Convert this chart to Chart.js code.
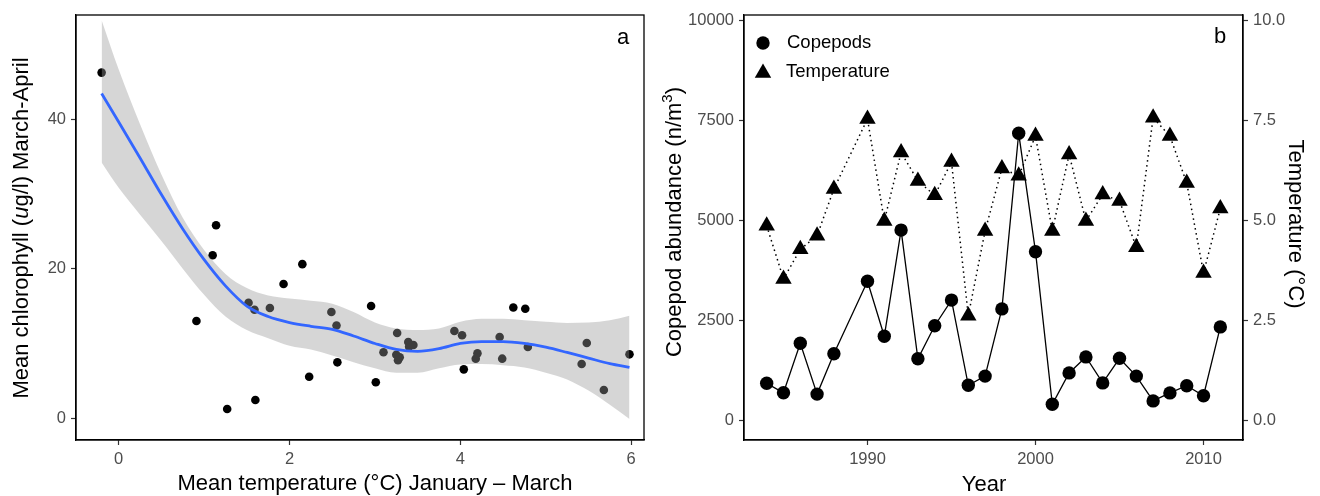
<!DOCTYPE html>
<html>
<head>
<meta charset="utf-8">
<script src="https://cdn.jsdelivr.net/npm/chart.js@4.4.0/dist/chart.umd.min.js"></script>
<style>
  html, body { margin: 0; padding: 0; background: #fff; }
  #wrapA { position: absolute; left: 0; top: 0; width: 660px; height: 496px; }
  #wrapB { position: absolute; left: 660px; top: 0; width: 660px; height: 496px; }
</style>
</head>
<body>
<div id="wrapA"><canvas id="chartA" width="660" height="496"></canvas></div>
<div id="wrapB"><canvas id="chartB" width="660" height="496"></canvas></div>
<script>
// PANEL A - chlorophyll vs temperature
const chlTemp = [-0.20, 1.14, 1.10, 0.91, 1.27, 1.60, 1.52, 1.59, 1.77, 1.93, 2.15, 2.23, 2.49, 2.55, 2.56,
  2.955, 3.01, 3.10, 3.26, 3.25, 3.29, 3.27, 3.39, 3.45, 3.40, 3.93, 4.02, 4.04, 4.20, 4.18,
  4.46, 4.49, 4.62, 4.76, 4.79, 5.42, 5.48, 5.68, 5.98];
const chlValue = [46.2, 25.8, 21.8, 13.0, 1.24, 2.45, 15.45, 14.5, 14.74, 17.95, 20.6, 5.56, 14.2, 12.4, 7.48,
  15.0, 4.81, 8.82, 11.4, 8.5, 8.15, 7.75, 10.2, 9.8, 9.57, 11.67, 11.09, 6.54, 8.68, 7.97,
  10.87, 7.97, 14.8, 14.65, 9.53, 7.26, 10.06, 3.78, 8.55];

const smoothX = [-0.2, 0, 0.25, 0.5, 0.75, 1.0, 1.25, 1.5, 1.75, 2.0, 2.25, 2.5, 2.75,
  3.0, 3.25, 3.5, 3.75, 4.0, 4.25, 4.5, 4.75, 5.0, 5.25, 5.5, 5.75, 5.98];
const smoothY = [43.4, 39.6, 34.8, 29.9, 25.3, 21.2, 17.7, 15.0, 13.6, 12.8, 12.3, 11.9, 11.0,
  10.0, 9.2, 8.95, 9.3, 10.0, 10.25, 10.25, 10.0, 9.5, 8.8, 8.05, 7.3, 6.8];
const bandUpper = [53.2, 46.6, 39.3, 32.6, 26.8, 22.5, 19.3, 17.4, 16.4, 16.0, 15.7, 15.3, 14.2,
  12.8, 12.0, 11.8, 12.0, 12.9, 13.3, 13.3, 13.1, 12.9, 12.75, 12.8, 13.1, 13.7];
const bandLower = [34.2, 30.8, 27.2, 23.7, 20.0, 16.5, 13.6, 11.8, 10.7, 9.7, 9.2, 8.4, 7.5,
  6.7, 6.1, 6.1, 6.7, 7.2, 7.25, 7.1, 6.8, 6.1, 5.2, 3.7, 1.8, -0.1];

const xTicksA = [0, 2, 4, 6];
const yTicksA = [0, 20, 40];

// PANEL B - copepods and temperature by year
const years = [1984, 1985, 1986, 1987, 1988, 1990, 1991, 1992, 1993, 1994, 1995, 1996, 1997, 1998,
  1999, 2000, 2001, 2002, 2003, 2004, 2005, 2006, 2007, 2008, 2009, 2010, 2011];
const copepods = [930, 695, 1930, 660, 1670, 3480, 2105, 4760, 1545, 2370, 3010, 880, 1110, 2790,
  7180, 4220, 405, 1190, 1590, 940, 1555, 1110, 490, 690, 870, 620, 2340];
const temperature = [4.87, 3.54, 4.28, 4.62, 5.79, 7.54, 4.99, 6.70, 5.99, 5.63, 6.46, 2.62, 4.74, 6.30,
  6.12, 7.11, 4.74, 6.65, 4.99, 5.65, 5.49, 4.33, 7.57, 7.11, 5.94, 3.69, 5.30];

const xTicksB = [1990, 2000, 2010];
const yTicksB = [0, 2500, 5000, 7500, 10000];
const y2TicksB = [0, 2.5, 5, 7.5, 10];

const FAMILY = '"Liberation Sans", Arial, Helvetica, sans-serif';
const tickFont = { family: FAMILY, size: 16.5 };
const tickColor = '#4d4d4d';

function toXY(xs, ys) {
  return xs.map((x, i) => ({ x: x, y: ys[i] }));
}

function axisStyle(ticks, fit, extra) {
  return Object.assign({
    type: 'linear',
    afterBuildTicks: s => { s.ticks = ticks.map(v => ({ value: v })); },
    afterFit: fit,
    ticks: { font: tickFont, color: tickColor, padding: 5, callback: v => String(v) },
    grid: { drawOnChartArea: false, drawTicks: true, tickLength: 5, tickColor: '#333', tickWidth: 1.2 },
    border: { display: true, color: '#000', width: 1.3 }
  }, extra);
}

// draw text pieces (with own font / baseline shift) around a centre, optionally rotated
function drawText(ctx, pieces, cx, cy, angle) {
  ctx.save();
  ctx.translate(cx, cy);
  ctx.rotate(angle);
  ctx.textBaseline = 'middle';
  ctx.textAlign = 'left';
  ctx.fillStyle = '#000';
  let total = 0;
  pieces.forEach(p => { ctx.font = p.font; total += ctx.measureText(p.text).width; });
  let x = -total / 2;
  pieces.forEach(p => {
    ctx.font = p.font;
    ctx.fillText(p.text, x, p.dy || 0);
    x += ctx.measureText(p.text).width;
  });
  ctx.restore();
}

const F22 = '22px ' + FAMILY;

const decorA = {
  id: 'decorA',
  afterDraw(chart) {
    const ctx = chart.ctx, a = chart.chartArea;
    ctx.save();
    ctx.strokeStyle = '#000';
    ctx.lineWidth = 1.3;
    ctx.strokeRect(a.left, a.top, a.right - a.left, a.bottom - a.top);
    ctx.restore();
    drawText(ctx, [{ text: 'a', font: F22 }], 623, 38, 0);
    drawText(ctx, [{ text: 'Mean temperature (°C) January – March', font: F22 }], 375, 484, 0);
    drawText(ctx, [
      { text: 'Mean chlorophyll (', font: F22 },
      { text: 'u', font: 'italic ' + F22 },
      { text: 'g/l) March-April', font: F22 }
    ], 22, 228, -Math.PI / 2);
  }
};

new Chart(document.getElementById('chartA'), {
  type: 'scatter',
  data: {
    datasets: [
      {
        type: 'line', label: 'loess', data: toXY(smoothX, smoothY), order: 0,
        borderColor: '#3366FF', borderWidth: 2.8, pointRadius: 0, fill: false,
        cubicInterpolationMode: 'monotone'
      },
      {
        type: 'line', label: 'upper', data: toXY(smoothX, bandUpper), order: 1,
        borderColor: 'rgba(0,0,0,0)', borderWidth: 0.01, pointRadius: 0,
        backgroundColor: 'rgba(153,153,153,0.4)', fill: '+1',
        cubicInterpolationMode: 'monotone'
      },
      {
        type: 'line', label: 'lower', data: toXY(smoothX, bandLower), order: 2,
        borderColor: 'rgba(0,0,0,0)', borderWidth: 0.01, pointRadius: 0, fill: false,
        cubicInterpolationMode: 'monotone'
      },
      {
        label: 'obs', data: toXY(chlTemp, chlValue), order: 3,
        backgroundColor: '#000', borderWidth: 0, pointRadius: 4.3
      }
    ]
  },
  options: {
    responsive: false,
    animation: false,
    layout: { padding: { top: 15, right: 16, left: 0, bottom: 0 } },
    plugins: { legend: { display: false }, tooltip: { enabled: false } },
    scales: {
      x: axisStyle(xTicksA, s => { s.height = 56; }, { min: -0.5, max: 6.15 }),
      y: axisStyle(yTicksA, s => { s.width = 76; }, { min: -2.9, max: 53.9 })
    }
  },
  plugins: [decorA]
});

const decorB = {
  id: 'decorB',
  afterDraw(chart) {
    const ctx = chart.ctx, a = chart.chartArea;
    ctx.save();
    ctx.strokeStyle = '#000';
    ctx.lineWidth = 1.3;
    ctx.strokeRect(a.left, a.top, a.right - a.left, a.bottom - a.top);
    // legend
    ctx.fillStyle = '#000';
    ctx.beginPath();
    ctx.arc(103, 43, 6.7, 0, Math.PI * 2);
    ctx.fill();
    const r = 9.5, tx = 103, ty = 73;
    ctx.beginPath();
    ctx.moveTo(tx, ty - r);
    ctx.lineTo(tx + r * 0.866, ty + r / 2);
    ctx.lineTo(tx - r * 0.866, ty + r / 2);
    ctx.closePath();
    ctx.fill();
    ctx.font = '18.5px ' + FAMILY;
    ctx.textBaseline = 'middle';
    ctx.textAlign = 'left';
    ctx.fillText('Copepods', 127, 43);
    ctx.fillText('Temperature', 126, 72);
    ctx.restore();
    drawText(ctx, [{ text: 'b', font: F22 }], 560, 37, 0);
    drawText(ctx, [{ text: 'Year', font: F22 }], 324, 485, 0);
    drawText(ctx, [
      { text: 'Copepod abundance (n/m', font: F22 },
      { text: '3', font: '15px ' + FAMILY, dy: -7 },
      { text: ')', font: F22 }
    ], 15, 222, -Math.PI / 2);
    drawText(ctx, [{ text: 'Temperature (°C)', font: F22 }], 635, 224, Math.PI / 2);
  }
};

new Chart(document.getElementById('chartB'), {
  type: 'line',
  data: {
    datasets: [
      {
        label: 'Temperature', data: toXY(years, temperature), yAxisID: 'y2', order: 0,
        borderColor: '#000', borderWidth: 1.5, borderDash: [1.5, 3.5],
        pointStyle: 'triangle', pointRadius: 9.5, pointBackgroundColor: '#000',
        pointBorderWidth: 0, fill: false
      },
      {
        label: 'Copepods', data: toXY(years, copepods), yAxisID: 'y', order: 1,
        borderColor: '#000', borderWidth: 1.3,
        pointStyle: 'circle', pointRadius: 6.7, pointBackgroundColor: '#000',
        pointBorderWidth: 0, fill: false
      }
    ]
  },
  options: {
    responsive: false,
    animation: false,
    layout: { padding: { top: 15, right: 0, left: 0, bottom: 0 } },
    plugins: { legend: { display: false }, tooltip: { enabled: false } },
    scales: {
      x: axisStyle(xTicksB, s => { s.height = 56; }, { min: 1982.65, max: 2012.35 }),
      y: axisStyle(yTicksB, s => { s.width = 84; }, { min: -487, max: 10137, position: 'left' }),
      y2: axisStyle(y2TicksB, s => { s.width = 77; }, {
        min: -0.487, max: 10.137, position: 'right',
        ticks: { font: tickFont, color: tickColor, padding: 5, callback: v => Number(v).toFixed(1) }
      })
    }
  },
  plugins: [decorB]
});
</script>
</body>
</html>
